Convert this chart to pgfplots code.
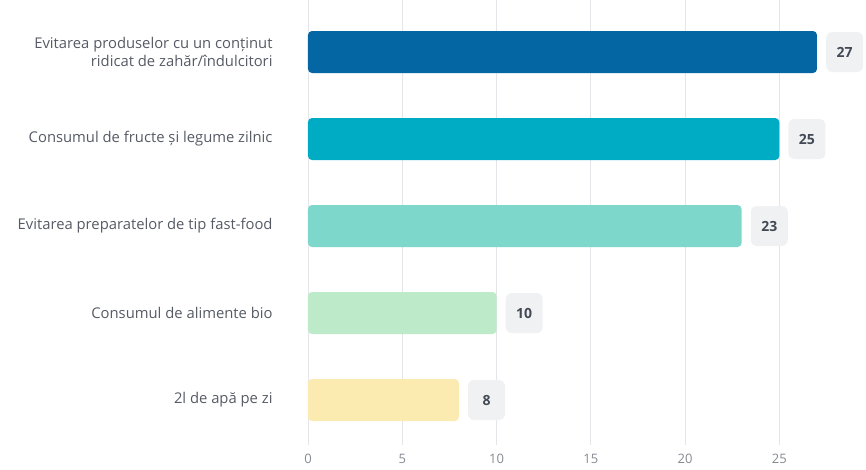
\documentclass[border=0pt]{standalone}
\usepackage{pgfplots}
\pgfplotsset{compat=1.18}
\usepackage{fontspec}
\setmainfont{Open Sans}
\definecolor{cA}{HTML}{0466A2}
\definecolor{cB}{HTML}{00ABC4}
\definecolor{cC}{HTML}{7DD7CB}
\definecolor{cD}{HTML}{BDEAC8}
\definecolor{cE}{HTML}{FCEBB0}
\definecolor{gridc}{HTML}{E3E5E8}
\definecolor{labc}{HTML}{555A64}
\definecolor{tickc}{HTML}{858A92}
\definecolor{boxc}{HTML}{F0F1F2}
\definecolor{valc}{HTML}{434A56}
\begin{document}
\begin{tikzpicture}
\useasboundingbox (-308pt,-25pt) rectangle (558pt,445pt);
\begin{axis}[
  at={(0,0)}, anchor=south west,
  scale only axis, width=558pt, height=445pt,
  xbar, bar width=42pt, bar shift=0pt,
  xmin=0, xmax=29.6, ymin=-0.598, ymax=4.517, y dir=reverse,
  xtick={0,5,10,15,20,25},
  ytick={0,1,2,3,4},
  yticklabels={{Evitarea produselor cu un conținut\\ridicat de zahăr/îndulcitori},{Consumul de fructe și legume zilnic},{Evitarea preparatelor de tip fast-food},{Consumul de alimente bio},{2l de apă pe zi}},
  axis line style={draw=none},
  major tick style={draw=none},
  xmajorgrids, grid style={gridc, line width=0.8pt},
  xticklabel style={font=\fontsize{13}{15}\selectfont, text=tickc, inner sep=0pt, anchor=north, yshift=-9pt},
  yticklabel style={font=\fontsize{14.8}{18}\selectfont, text=labc, align=right, inner sep=0pt, anchor=east, xshift=-31pt},
  /pgf/number format/assume math mode=true,
  nodes near coords,
  every node near coord/.append style={anchor=west, xshift=9pt, fill=boxc, rounded corners=6pt, minimum width=37pt, minimum height=40pt, inner sep=0pt, font=\fontsize{14}{16}\selectfont\bfseries, text=valc},
  clip=false,
]
\addplot[fill=cA, draw=none, rounded corners=4pt] coordinates {(27,0)};
\addplot[fill=cB, draw=none, rounded corners=4pt] coordinates {(25,1)};
\addplot[fill=cC, draw=none, rounded corners=4pt] coordinates {(23,2)};
\addplot[fill=cD, draw=none, rounded corners=4pt] coordinates {(10,3)};
\addplot[fill=cE, draw=none, rounded corners=4pt] coordinates {(8,4)};
\end{axis}
\end{tikzpicture}
\end{document}
